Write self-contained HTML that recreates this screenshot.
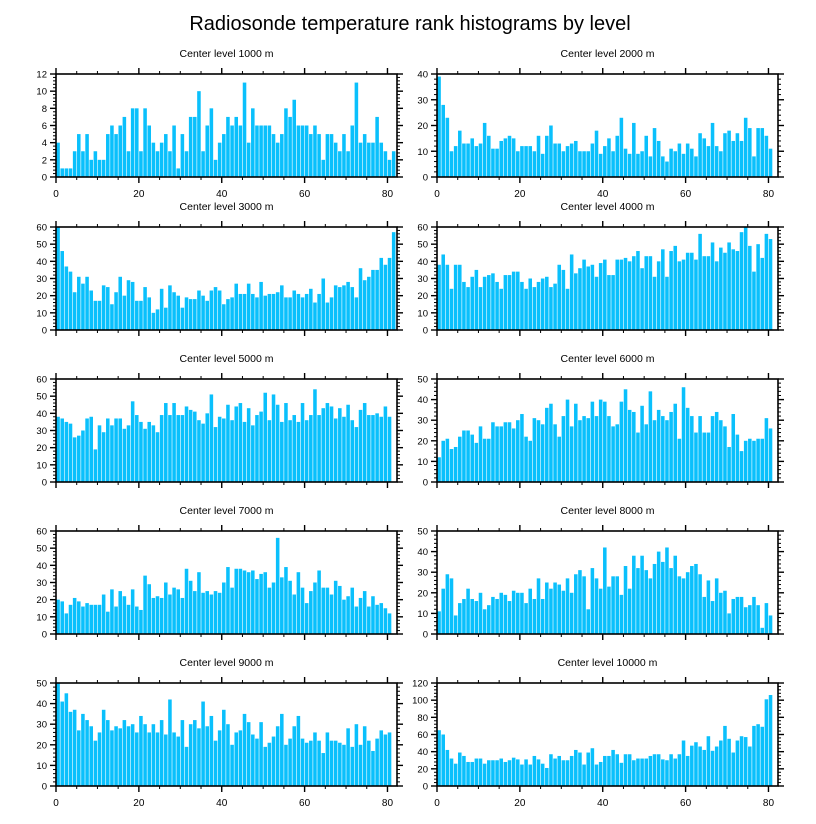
<!DOCTYPE html>
<html><head><meta charset="utf-8"><style>
body{margin:0;background:#fff;}
svg{display:block;font-family:"Liberation Sans",Helvetica,sans-serif;}
</style></head><body>
<svg id="chart" width="816" height="824">
<text x="410" y="30" text-anchor="middle" font-size="20">Radiosonde temperature rank histograms by level</text>
</svg>
<script>
const levels = ["1000","2000","3000","4000","5000","6000","7000","8000","9000","10000"];
const yMaxes = [12,40,60,60,60,50,60,50,50,120];
const ySteps = [2,10,10,10,10,10,10,10,10,20];
const xTicks = [0,20,40,60,80];
const v1000 = [4,1,1,1,3,5,3,5,2,3,2,2,5,6,5,6,7,3,8,8,3,8,6,4,3,4,5,3,6,1,5,3,7,7,10,3,6,8,2,4,5,7,6,7,6,11,4,8,6,6,6,6,5,4,5,8,7,9,6,6,6,5,6,5,2,5,5,4,3,5,3,6,11,4,5,4,4,7,4,3,2,3];
const v2000 = [39,28,23,10,12,18,13,13,15,12,13,21,16,11,11,14,15,16,15,10,12,12,12,10,16,9,16,20,13,13,10,12,13,14,10,10,10,13,18,9,12,15,10,16,23,11,9,21,9,10,16,8,19,14,8,6,11,10,13,9,13,11,8,17,15,12,21,12,10,17,18,14,17,14,23,19,8,19,19,16,11];
const v3000 = [60,46,37,34,22,31,27,31,23,17,17,26,25,15,22,31,20,29,28,17,17,25,19,10,12,24,13,26,22,20,13,19,18,18,23,20,17,23,25,23,15,18,19,27,21,21,27,21,19,28,20,21,21,22,26,19,19,23,21,19,21,24,16,21,30,16,19,26,25,26,28,25,19,36,29,31,35,35,42,38,42,57];
const v4000 = [38,44,38,24,38,38,28,25,31,35,25,31,32,33,28,24,32,32,34,34,28,24,30,25,28,30,31,25,27,38,35,24,44,33,36,41,37,38,31,39,41,32,32,41,41,42,40,43,46,36,43,43,31,40,47,31,46,49,40,41,45,45,41,56,43,43,51,40,48,45,51,47,46,57,60,49,34,50,42,56,53];
const v5000 = [38,37,35,34,26,27,30,37,38,19,33,29,37,33,37,37,31,33,47,39,35,31,35,33,29,39,46,39,46,39,39,44,42,41,36,34,40,51,32,38,37,45,36,44,46,35,43,33,39,41,52,36,51,45,35,46,36,39,35,46,36,39,54,39,43,46,44,37,43,38,45,36,32,42,46,39,39,40,38,44,38];
const v6000 = [12,20,21,16,17,22,25,25,23,19,27,21,21,29,27,27,29,29,26,30,33,22,20,31,30,28,36,38,28,22,32,40,27,38,30,32,31,39,32,40,39,32,27,28,39,45,35,34,24,37,28,44,30,35,32,30,34,38,21,46,36,32,24,32,24,24,32,34,30,27,17,33,23,15,20,21,20,21,21,31,26];
const v7000 = [20,19,12,17,21,19,16,18,17,17,17,23,13,26,16,25,22,17,26,16,14,34,29,21,22,21,30,23,27,26,21,38,31,25,36,24,25,23,25,24,30,39,27,38,38,37,36,37,32,35,36,27,30,56,33,39,31,23,36,27,18,25,30,37,27,27,23,31,28,20,22,27,16,21,25,16,22,17,18,15,12];
const v8000 = [11,22,29,27,9,15,17,22,17,16,20,12,14,18,17,20,19,16,21,20,20,15,22,17,27,17,25,22,25,24,21,27,20,29,31,28,12,32,27,22,42,23,28,28,19,33,22,38,32,38,31,27,34,40,35,42,32,38,28,27,30,33,34,29,18,26,16,27,20,21,10,17,18,18,13,14,18,14,3,15,9];
const v9000 = [50,41,45,36,37,27,35,32,29,22,26,37,32,27,29,28,32,29,30,26,34,30,26,30,26,32,25,42,26,24,32,19,30,32,28,41,29,34,22,27,37,30,20,26,27,35,31,25,23,31,19,21,24,29,35,20,23,29,34,23,21,22,26,22,16,26,22,22,21,20,28,19,30,20,29,22,17,23,27,25,26];
const v10000 = [65,60,42,32,26,39,35,28,28,32,32,26,30,30,30,32,28,30,33,31,25,31,25,35,31,26,21,37,32,35,30,30,35,42,39,25,39,44,25,28,35,35,42,37,27,37,37,30,32,32,32,35,37,37,31,30,37,32,37,53,35,47,51,46,42,58,41,46,53,70,55,39,53,58,57,46,70,72,69,101,106];
const series = [v1000,v2000,v3000,v4000,v5000,v6000,v7000,v8000,v9000,v10000];

const NS = "http://www.w3.org/2000/svg";
const svg = document.getElementById("chart");
function mk(tag, attrs, parent){const e=document.createElementNS(NS,tag);for(const k in attrs)e.setAttribute(k,attrs[k]);(parent||svg).appendChild(e);return e;}
const lefts=[56,437], W=341, H=103, tops=[74,227,379,531,683], XMAX=82.3;

series.forEach((vals,p)=>{
  const col=p%2,row=Math.floor(p/2);
  const L=lefts[col],T=tops[row],B=T+H,R=L+W;
  const ymax=yMaxes[p],ystep=ySteps[p];
  const xs=v=>L+v/XMAX*W, ys=v=>B-v/ymax*H;
  const g=mk("g",{});
  
  
  const t=mk("text",{x:(L+R)/2,y:T-17,"text-anchor":"middle","font-size":"10.5"},g);
  t.textContent="Center level "+levels[p]+" m";
  
  
  vals.forEach((v,i)=>{
    const r=mk("rect",{x:xs(i)+0.3,y:ys(v),width:xs(1)-xs(0)-0.6,height:B-ys(v),fill:"#0ac0fc"},g);
    
    
  });
  const frame=mk("rect",{x:L,y:T,width:W,height:H,fill:"none",stroke:"#000","stroke-width":"1.6"},g);
  
  
  // x ticks
  for(let v=0;v<=XMAX;v+=5){
    const maj=v%20===0, len=maj?6:3, x=xs(v);
    mk("line",{x1:x,x2:x,y1:B,y2:B+len,stroke:"#000","stroke-width":maj?1.4:1},g);
    mk("line",{x1:x,x2:x,y1:T,y2:T-len,stroke:"#000","stroke-width":maj?1.4:1},g);
  }
  if(row===0||row===4){
    xTicks.forEach(v=>{
      const tl=mk("text",{x:xs(v),y:B+20,"text-anchor":"middle","font-size":"10"},g);
      tl.textContent=v;
      
      
    });
  }
  // y ticks
  const minor=ystep/5;
  for(let k=0;k*minor<=ymax+1e-9;k++){
    const v=k*minor, maj=k%5===0, len=maj?6:3, y=ys(v);
    mk("line",{x1:L,x2:L-len,y1:y,y2:y,stroke:"#000","stroke-width":maj?1.4:1},g);
    mk("line",{x1:R,x2:R+len,y1:y,y2:y,stroke:"#000","stroke-width":maj?1.4:1},g);
    if(maj){
      const yl=mk("text",{x:L-9,y:y+3.5,"text-anchor":"end","font-size":"9.5"},g);
      yl.textContent=Math.round(v);
      
      
    }
  }
});
</script>
</body></html>
